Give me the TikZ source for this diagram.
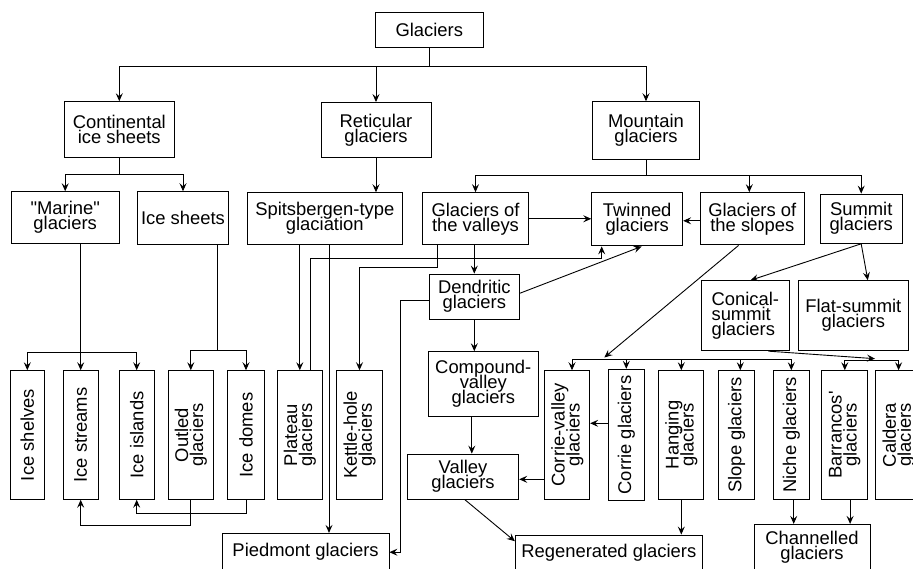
\documentclass[tikz,border=0pt]{standalone}
\usepackage{fontspec}
\setmainfont{Liberation Sans}
\usetikzlibrary{arrows.meta}
\newcommand\boxfont{\fontsize{18.4}{15}\selectfont\setlength{\lineskiplimit}{-100pt}}

\begin{document}
\begin{tikzpicture}[x=1pt,y=-1pt,
  box/.style={draw, line width=0.9pt, inner sep=0pt, align=center, font=\boxfont},
  vbox/.style={box, rotate=90, minimum width=128.6pt, minimum height=#1},
  vbox/.default=36pt,
  link/.style={line width=0.9pt},
  arr/.style={link, -{Stealth[length=8pt,width=7pt,inset=3pt]}}]
  \useasboundingbox (0,0) rectangle (913,569);
  \clip (0,0) rectangle (913,569);

  % upper levels
  \node[box, minimum width=108pt, minimum height=34.6pt] (glaciers) at (429.3,30) {Glaciers};
  \node[box, minimum width=110pt, minimum height=55.6pt] (continental) at (119.3,129.5) {Continental\\ice sheets};
  \node[box, minimum width=110pt, minimum height=55pt] (reticular) at (376,130) {Reticular\\glaciers};
  \node[box, minimum width=106.6pt, minimum height=57.6pt] (mountain) at (646,130.5) {Mountain\\glaciers};
  \node[box, minimum width=108.3pt, minimum height=51.6pt] (marine) at (65.2,217.5) {\textquotedbl Marine\textquotedbl\\glaciers};
  \node[box, minimum width=90.6pt, minimum height=52.6pt] (icesheets) at (183,218) {Ice sheets};
  \node[box, minimum width=155pt, minimum height=51.6pt] (spitsbergen) at (324.8,218.5) {Spitsbergen-type\\glaciation};
  \node[box, minimum width=105.6pt, minimum height=52.3pt] (valleys) at (475.5,218.8) {Glaciers of\\the valleys};
  \node[box, minimum width=91pt, minimum height=53.3pt] (twinned) at (637.2,219.3) {Twinned\\glaciers};
  \node[box, minimum width=103.3pt, minimum height=52.3pt] (slopes) at (752.3,218.8) {Glaciers of\\the slopes};
  \node[box, minimum width=82.3pt, minimum height=49.3pt] (summit) at (861.2,218.7) {Summit\\glaciers};
  \node[box, minimum width=90pt, minimum height=45.3pt] (dendritic) at (474.3,296.7) {Dendritic\\glaciers};
  \node[box, minimum width=109.5pt, minimum height=65pt] (compound) at (483.3,384.2) {Compound-\\valley\\glaciers};
  \node[box, minimum width=111.5pt, minimum height=45.3pt] (valley) at (463,476.7) {Valley\\glaciers};
  \node[box, minimum width=87.7pt, minimum height=70pt, align=left] (conical) at (745.3,315.7) {Conical-\\summit\\glaciers};
  \node[box, minimum width=110.5pt, minimum height=70pt] (flat) at (853.3,315.7) {Flat-summit\\glaciers};

  % upright boxes (east = top, west = bottom, north = left)
  \node[vbox=34.7pt] (shelves) at (27.3,435) {Ice shelves};
  \node[vbox=34.7pt] (streams) at (80.7,435) {Ice streams};
  \node[vbox=35.3pt] (islands) at (136.7,435) {Ice islands};
  \node[vbox=45.7pt] (outled) at (190.8,435) {Outled\\glaciers};
  \node[vbox=36.6pt] (domes) at (246,435) {Ice domes};
  \node[vbox=45pt] (plateau) at (299.8,435) {Plateau\\glaciers};
  \node[vbox=46.4pt] (kettle) at (359.5,435) {Kettle-hole\\glaciers};
  \node[vbox=44.8pt] (corrievalley) at (567.3,435) {Corrie-valley\\glaciers};
  \node[vbox=35.7pt, minimum width=131.4pt] (corrie) at (626.3,435) {Corrie glaciers};
  \node[vbox=45.2pt] (hanging) at (681.3,435) {Hanging\\glaciers};
  \node[vbox=36.7pt] (slope) at (736.5,435) {Slope glaciers};
  \node[vbox=35.4pt] (niche) at (791.3,435) {Niche glaciers};
  \node[vbox=45.9pt] (barrancos) at (844.8,435) {Barrancos\textquotesingle\\glaciers};
  \node[vbox=46pt] (caldera) at (898.6,435) {Caldera\\glaciers};

  % bottom row
  \node[box, minimum width=166.7pt, minimum height=37.7pt] (piedmont) at (305.6,552.2) {Piedmont glaciers};
  \node[box, minimum width=186.9pt, minimum height=36pt] (regenerated) at (608.8,553) {Regenerated glaciers};
  \node[box, minimum width=116pt, minimum height=46.7pt] (channelled) at (812,547.7) {Channelled\\glaciers};

  % tree from the top
  \coordinate (topbus) at (429.3,66);
  \draw[link] (glaciers.south) -- (topbus);
  \draw[arr] (topbus) -| (continental.north);
  \draw[arr] (topbus) -| (reticular.north);
  \draw[arr] (topbus) -| (mountain.north);
  \draw[arr] (continental.south) -- ++(0,16.9) -| (marine.north);
  \draw[arr] (continental.south) -- ++(0,16.9) -| (icesheets.north);
  \draw[arr] (reticular.south) -- (reticular.south |- spitsbergen.north);
  \draw[arr] (mountain.south) -- ++(0,15.7) -| (valleys.north);
  \draw[arr] (mountain.south) -- ++(0,15.7) -| ([xshift=-3pt]slopes.north);
  \draw[arr] (mountain.south) -- ++(0,15.7) -| (summit.north);

  % continental ice sheets
  \coordinate (mbus) at (80.7,352);
  \draw[arr] (streams.east |- marine.south) -- (streams.east);
  \draw[arr] (mbus) -| (shelves.east);
  \draw[arr] (mbus) -| (islands.east);
  \draw[arr] ([xshift=34.7pt]icesheets.south) -- ++(0,105.7) -| (outled.east);
  \draw[arr] ([xshift=34.7pt]icesheets.south) -- ++(0,105.7) -| (domes.east);
  \draw[arr] (outled.west) -- ++(0,25.2) -| (streams.west);
  \draw[arr] (domes.west) -- ++(0,13.4) -| (islands.west);

  % reticular glaciers
  \draw[arr] (plateau.east |- spitsbergen.south) -- (plateau.east);
  \draw[arr] ([xshift=4.2pt]spitsbergen.south) -- ([xshift=4.2pt]spitsbergen.south |- piedmont.north);
  \draw[arr] ([xshift=11pt]plateau.east) -- ++(0,-111.7) -| ([xshift=-35.5pt]twinned.south);

  % glaciers of the valleys
  \draw[arr] ([xshift=-38.2pt]valleys.south) -- ++(0,21.7) -| (kettle.east);
  \draw[arr] (dendritic.north |- valleys.south) -- (dendritic.north);
  \draw[arr] (valleys.east) -- (valleys.east -| twinned.west);
  \draw[arr] ([yshift=-2pt]slopes.west) -- ([yshift=-2pt]slopes.west -| twinned.east);
  \draw[arr] ([yshift=3.4pt]dendritic.east) -- ([xshift=4.5pt]twinned.south);
  \draw[arr] ([yshift=-4pt]dendritic.west) -- ++(-28.3,0) |- (piedmont.east);
  \draw[arr] (dendritic.south) -- (dendritic.south |- compound.north);
  \draw[arr] ([xshift=-11.5pt]compound.south) -- ([xshift=-11.5pt]compound.south |- valley.north);
  \draw[arr] ([xshift=2pt]valley.south) -- ([yshift=-6.7pt]regenerated.north west);
  \draw[arr] ([yshift=-2.6pt]valley.east -| corrievalley.north) -- ([yshift=-2.6pt]valley.east);
  \draw[arr] ([yshift=11.7pt]corrie.north) -- ([yshift=11.7pt]corrie.north -| corrievalley.south);
  \draw[arr] (hanging.west) -- (hanging.west |- regenerated.north);

  % glaciers of the slopes
  \coordinate (gbus) at (604.3,359);
  \draw[link] ([xshift=4.7pt]corrievalley.east |- gbus) -- (niche.east |- gbus);
  \foreach \n/\dx in {corrievalley/4.7, corrie/0, hanging/0, slope/3.8, niche/0}
    \draw[arr] ([xshift=\dx pt]\n.east |- gbus) -- ([xshift=\dx pt]\n.east);
  \draw[arr] ([xshift=-13.7pt]slopes.south) -- ([yshift=1.5pt]gbus);

  % summit glaciers
  \coordinate (sbus) at (875,360.7);
  \draw[arr] (summit.south) -- ([xshift=5.2pt]conical.north);
  \draw[arr] (summit.south) -- ([xshift=14.5pt]flat.north);
  \draw[arr] ([xshift=23pt]conical.south) -- ([yshift=2pt]sbus);
  \draw[arr] (sbus) -| (barrancos.east);
  \draw[arr] (sbus) -| (caldera.east);
  \draw[arr] ([xshift=2.4pt]niche.west) -- ([xshift=2.4pt]niche.west |- channelled.north);
  \draw[arr] ([xshift=5.3pt]barrancos.west) -- ([xshift=5.3pt]barrancos.west |- channelled.north);
\end{tikzpicture}
\end{document}
